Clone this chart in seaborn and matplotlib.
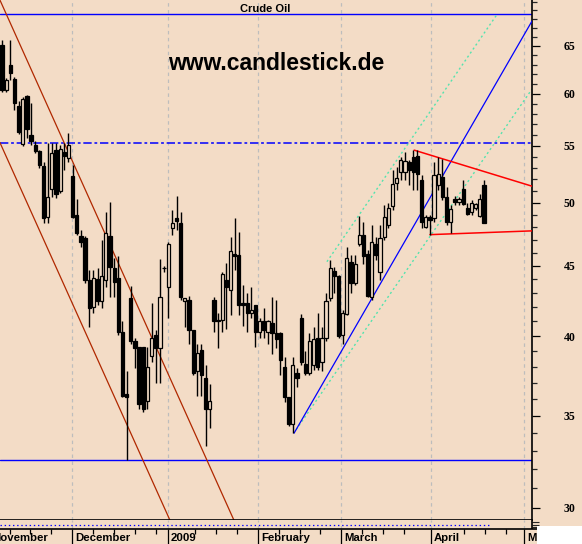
import matplotlib
matplotlib.use("Agg")
import matplotlib.pyplot as plt
import seaborn as sns
import numpy as np
import pandas as pd
from matplotlib.patches import Rectangle
from matplotlib.ticker import FixedLocator, FixedFormatter, NullFormatter

# ---------------- data (daily candles, Nov 2008 - Apr 2009) ----------------
opens = [65.1, 60.4, 63.0, 61.5, 58.8, 55.2, 59.8, 56.0, 55.1, 54.5,
         53.2, 48.8, 51.2, 54.6, 51.0, 54.4, 53.9, 52.3, 49.0, 47.3,
         47.1, 43.9, 42.0, 44.0, 42.4, 43.9, 47.3, 44.8, 44.1, 40.3,
         36.3, 42.6, 39.7, 39.3, 39.3, 35.9, 38.7, 40.1, 39.2, 44.8,
         43.4, 47.9, 48.7, 48.3, 42.4, 42.5, 40.4, 37.7, 39.1, 37.3,
         35.4, 42.5, 41.1, 41.1, 43.9, 43.2, 45.9, 45.8, 42.3, 42.3,
         41.6, 42.1, 40.3, 41.0, 40.3, 40.9, 40.2, 40.2, 38.0, 36.1,
         34.5, 37.6, 41.2, 38.2, 37.6, 38.1, 39.9, 38.3, 39.9, 42.6,
         44.6, 44.2, 40.1, 41.5, 45.3, 43.7, 46.7, 47.4, 45.9, 42.7,
         46.7, 44.5, 47.2, 48.2, 49.7, 51.7, 52.6, 52.6, 53.5, 54.0,
         54.1, 51.9, 48.0, 48.8, 48.7, 51.5, 52.2, 50.5, 48.4, 50.3,
         50.1, 51.2, 49.6, 49.2, 49.6, 48.9, 51.5]
highs = [65.6, 61.6, 65.6, 61.7, 59.3, 59.7, 59.9, 59.1, 55.4, 54.6,
         53.5, 55.3, 55.3, 55.3, 55.1, 55.3, 56.2, 53.3, 50.3, 47.8,
         47.3, 44.7, 44.7, 44.8, 47.0, 49.2, 50.1, 45.6, 45.7, 41.0,
         37.7, 43.5, 39.9, 39.3, 39.3, 39.3, 42.3, 40.4, 45.5, 45.0,
         46.8, 49.4, 50.6, 49.2, 42.6, 42.8, 40.4, 39.5, 39.5, 38.1,
         36.9, 42.7, 41.6, 44.5, 45.2, 47.2, 48.7, 47.6, 43.6, 43.0,
         43.4, 42.1, 41.2, 41.9, 41.1, 42.7, 42.5, 40.3, 38.6, 36.1,
         38.6, 37.9, 41.5, 39.0, 40.2, 40.6, 41.6, 40.6, 43.0, 45.4,
         44.9, 44.3, 41.8, 46.4, 45.8, 45.8, 48.9, 48.4, 46.2, 48.2,
         47.2, 48.2, 49.8, 50.0, 52.8, 53.1, 54.0, 54.4, 53.7, 54.6,
         54.6, 52.4, 49.0, 49.0, 53.5, 54.0, 53.8, 51.3, 49.8, 50.6,
         50.5, 51.9, 50.0, 50.2, 50.0, 50.7, 51.9]
lows = [60.2, 60.2, 61.4, 58.4, 56.1, 55.0, 55.7, 55.1, 54.3, 53.0,
        48.3, 48.3, 50.5, 50.4, 50.8, 52.8, 53.5, 48.7, 47.4, 46.4,
        43.7, 40.6, 41.6, 42.1, 41.9, 43.4, 42.7, 42.7, 40.1, 36.1,
        32.5, 39.5, 37.9, 35.4, 35.2, 35.4, 38.3, 37.0, 37.0, 44.5,
        41.2, 47.4, 47.8, 42.5, 40.6, 39.5, 37.5, 36.2, 36.2, 33.3,
        34.3, 40.3, 39.2, 40.3, 40.5, 41.4, 44.7, 41.4, 40.7, 40.3,
        41.2, 39.3, 39.9, 39.9, 39.5, 38.8, 39.2, 37.5, 35.8, 34.4,
        34.0, 36.7, 38.1, 37.5, 37.5, 37.8, 37.8, 37.7, 39.7, 42.4,
        43.0, 39.9, 39.5, 41.4, 43.0, 43.6, 46.5, 45.1, 42.7, 42.5,
        45.4, 43.9, 47.0, 47.9, 49.4, 51.1, 51.9, 51.9, 51.5, 51.1,
        51.1, 47.9, 47.9, 47.4, 48.4, 51.1, 50.2, 48.2, 47.5, 49.8,
        49.8, 49.8, 49.0, 49.0, 49.4, 48.8, 48.3]
closes = [60.4, 61.4, 62.1, 59.1, 56.3, 59.5, 56.6, 55.4, 54.5, 53.3,
          48.7, 50.5, 54.3, 50.7, 54.7, 54.1, 55.1, 48.8, 47.5, 46.8,
          43.9, 41.9, 44.1, 42.4, 44.2, 47.5, 44.9, 43.8, 40.3, 36.2,
          36.1, 39.7, 39.2, 35.7, 35.4, 38.0, 39.9, 39.2, 42.7, 44.8,
          46.7, 48.3, 48.5, 42.7, 42.6, 40.4, 37.6, 38.9, 37.5, 35.4,
          35.9, 41.0, 41.0, 44.4, 43.4, 46.1, 45.7, 42.1, 42.1, 41.6,
          41.8, 40.3, 41.0, 40.4, 41.0, 40.2, 39.8, 38.4, 36.1, 34.5,
          38.1, 37.3, 38.3, 37.6, 39.7, 39.8, 38.0, 39.9, 42.4, 44.8,
          44.2, 40.0, 41.6, 45.6, 43.7, 45.1, 47.4, 45.7, 42.8, 46.8,
          45.8, 47.1, 48.8, 49.6, 51.6, 52.1, 53.7, 53.6, 52.8, 52.6,
          52.5, 48.4, 48.8, 48.6, 52.4, 52.5, 50.5, 48.4, 49.5, 50.1,
          50.3, 49.9, 49.1, 50.0, 49.9, 50.3, 48.3]

month_labels = ["November", "December", "2009", "February", "March", "April", "M"]
month_pos = [-3.13, 16.85, 39.95, 61.6, 81.6, 103.25, 125.6]
week_pos = [1.9, 6.7, 11.8, 21.9, 27.0, 32.0, 37.1, 46.5, 51.5, 56.6,
            66.7, 71.7, 76.5, 86.6, 91.7, 96.8, 111.2, 116.3, 121.3]
price_ticks = [30, 35, 40, 45, 50, 55, 60, 65]

level_top = 68.6
level_mid = 55.3
level_low = 32.5

uptrend_x, uptrend_y = [70.3, 127.6], [34.0, 67.8]
chan_up_x, chan_up_y = [78.2, 119.1], [45.3, 68.5]
chan_lo_x, chan_lo_y = [70.8, 127.6], [34.2, 60.5]
down_a_x, down_a_y = [-0.5, 55.8], [70.2, 29.4]
down_b_x, down_b_y = [-0.5, 40.4], [55.3, 29.4]
tri_up_x, tri_up_y = [99.2, 127.6], [54.6, 51.4]
tri_lo_x, tri_lo_y = [103.0, 127.6], [47.4, 47.7]

# ---------------- style ----------------
BG = "#F3DCC6"
sns.set_theme(style="white")
plt.rcParams["font.family"] = ["Liberation Sans", "DejaVu Sans"]
plt.rcParams["lines.scale_dashes"] = False

df = pd.DataFrame({"open": opens, "high": highs, "low": lows, "close": closes})
df["idx"] = np.arange(len(df))
df["up"] = df["close"] >= df["open"]
df["bottom"] = df[["open", "close"]].min(axis=1)
df["height"] = (df["close"] - df["open"]).abs()

W, H = 582, 544
def rect(x0, y0, x1, y1):
    return [x0 / W, 1 - y1 / H, (x1 - x0) / W, (y1 - y0) / H]

fig = plt.figure(figsize=(W / 100, H / 100), dpi=100, facecolor=BG)
fig.patches.append(Rectangle((537 / W, 0), 45 / W, 18 / H, transform=fig.transFigure,
                             facecolor="white", edgecolor="none", zorder=0))

XL = (-0.481, 127.56)
ax = fig.add_axes(rect(0, 0, 532, 520))
ax.set_facecolor(BG)

# vertical month grid
for p in month_pos[1:]:
    ax.axvline(p, color="#BDBDBD", lw=0.9, ls=(0, (2.5, 2.5)), zorder=1)

# horizontal levels
ax.axhline(level_top, color="#0000FF", lw=1.0, zorder=2)
ax.axhline(level_low, color="#0000FF", lw=1.0, zorder=2)
ax.axhline(level_mid, color="#0000FF", lw=1.1, ls=(0, (6, 2, 2, 2)), zorder=2)

# trend lines
sns.lineplot(x=down_a_x, y=down_a_y, ax=ax, color="#B02800", lw=0.9, zorder=2)
sns.lineplot(x=down_b_x, y=down_b_y, ax=ax, color="#B02800", lw=0.9, zorder=2)
sns.lineplot(x=uptrend_x, y=uptrend_y, ax=ax, color="#0000FF", lw=0.9, zorder=4)
ax.plot(chan_up_x, chan_up_y, color="#55E3AE", lw=1.0, ls=(0, (1.5, 2.0)), zorder=2)
ax.plot(chan_lo_x, chan_lo_y, color="#55E3AE", lw=1.0, ls=(0, (1.5, 2.0)), zorder=2)
sns.lineplot(x=tri_up_x, y=tri_up_y, ax=ax, color="#FF0000", lw=1.1, zorder=4)
sns.lineplot(x=tri_lo_x, y=tri_lo_y, ax=ax, color="#FF0000", lw=1.1, zorder=4)

# candles
ax.vlines(df["idx"], df["low"], df["high"], color="black", lw=1.0, zorder=5)
fills = np.where(df["up"], BG, "black")
ax.bar(df["idx"], df["height"].where(df["height"] > 0, 0.02), bottom=df["bottom"],
       width=0.78, color=fills, edgecolor="black", linewidth=0.9, zorder=6)

ax.set_yscale("log")
ax.set_xlim(*XL)
ax.set_ylim(29.40, 70.20)
ax.yaxis.tick_right()
ax.yaxis.set_major_locator(FixedLocator(price_ticks))
ax.yaxis.set_major_formatter(FixedFormatter([str(v) for v in price_ticks]))
ax.yaxis.set_minor_locator(FixedLocator(list(range(30, 71))))
ax.yaxis.set_minor_formatter(NullFormatter())
ax.tick_params(axis="y", which="major", direction="out", length=6, width=0.9,
               pad=17, labelsize=8.5, colors="black", right=True, left=False)
ax.tick_params(axis="y", which="minor", direction="out", length=3.5, width=0.9,
               right=True, left=False)
for lbl in ax.get_yticklabels():
    lbl.set_fontfamily("Liberation Serif")
    lbl.set_fontweight("bold")
ax.set_xticks([])
ax.set_xlabel("")
ax.set_ylabel("")
for s in ["left", "top"]:
    ax.spines[s].set_visible(False)
for s in ["right", "bottom"]:
    ax.spines[s].set_visible(True)
    ax.spines[s].set_color("black")
    ax.spines[s].set_linewidth(1.2)

# lower strip
strip = fig.add_axes(rect(0, 520, 532, 529))
strip.set_facecolor(BG)
strip.set_xlim(*XL)
strip.set_ylim(0, 1)
for p in month_pos[1:]:
    strip.axvline(p, color="#BDBDBD", lw=0.9, ls=(0, (2.5, 2.5)))
strip.plot([-0.5, 117.5], [0.5, 0.5], color="#0000FF", lw=0.9, ls=(0, (1, 2)))
strip.set_xticks([])
strip.yaxis.tick_right()
strip.set_yticks([0.2, 0.5, 0.8])
strip.set_yticklabels([])
strip.tick_params(axis="y", direction="out", length=5, width=0.8, right=True, left=False)
for s in ["left", "top", "bottom"]:
    strip.spines[s].set_visible(False)
strip.spines["right"].set_visible(True)
strip.spines["right"].set_color("black")
strip.spines["right"].set_linewidth(1.2)

# date label row
lab = fig.add_axes(rect(0, 529, 537, 544))
lab.set_facecolor(BG)
lab.set_xlim(-0.481, 128.76)
lab.set_ylim(0, 1)
lab.vlines(month_pos, 0, 1, color="black", lw=0.9)
lab.vlines(week_pos, 0.7, 1, color="black", lw=0.9)
for p, t in zip(month_pos, month_labels):
    lab.text(p + 0.7, 0.42, t, ha="left", va="center", fontsize=8.2,
             fontweight="bold", color="black", clip_on=True)
lab.set_xticks([])
lab.set_yticks([])
for s in ["left", "right", "bottom"]:
    lab.spines[s].set_visible(False)
lab.spines["top"].set_visible(True)
lab.spines["top"].set_color("black")
lab.spines["top"].set_linewidth(1.2)

# texts
fig.text(265 / W, 1 - 9 / H, "Crude Oil", ha="center", va="center",
         fontsize=8, fontweight="bold", color="black")
fig.text(276 / W, 1 - 64 / H, "www.candlestick.de", ha="center", va="center",
         fontsize=16.5, fontweight="bold", color="black")

fig.savefig("out.png", dpi=100, facecolor=BG)
